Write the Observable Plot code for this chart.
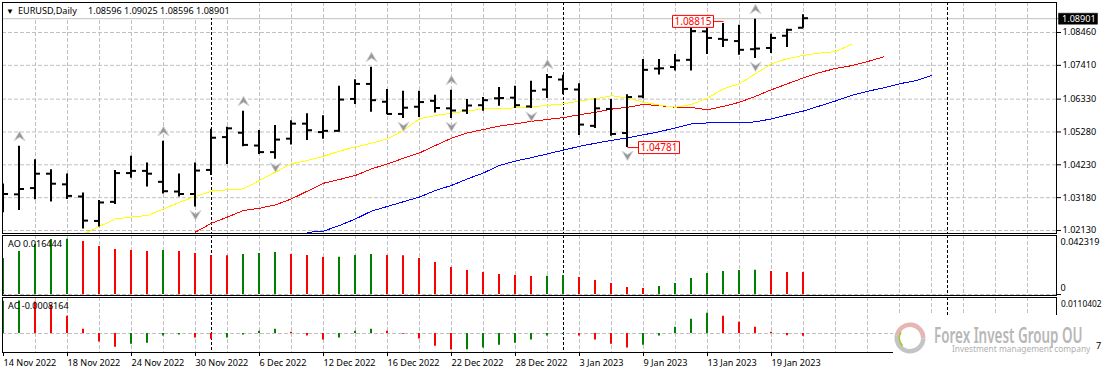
<!DOCTYPE html>
<html>
<head>
<meta charset="utf-8">
<script src="https://cdn.jsdelivr.net/npm/d3@7"></script>
<script src="https://cdn.jsdelivr.net/npm/@observablehq/plot@0.6"></script>
<style>
html,body{margin:0;padding:0;width:1102px;height:373px;overflow:hidden;background:#fff}
#root{position:relative;width:1102px;height:373px}
#root>svg{position:absolute;left:0;display:block}
#head{position:absolute;left:3px;top:3px;width:226px;height:15px;background:#fff;font:9.1px "Noto Sans",sans-serif;color:#000;line-height:15px;white-space:pre}
#head span{position:absolute;top:0}
</style>
</head>
<body>
<div id="root"></div>
<script>
const tickIndex=[0,4,8,12,16,20,24,28,32,36,40,44,48];
const tickLabels=["14 Nov 2022","18 Nov 2022","24 Nov 2022","30 Nov 2022","6 Dec 2022","12 Dec 2022","16 Dec 2022","22 Dec 2022","28 Dec 2022","3 Jan 2023","9 Jan 2023","13 Jan 2023","19 Jan 2023"];
const monthBreaks=[13,35,59];
const priceTicks=[1.0846,1.0741,1.0633,1.0528,1.0423,1.0318,1.0213];
const lastPrice=1.08901;

const opens=[1.0328,1.0327,1.0347,1.0393,1.0359,1.0320,1.0242,1.0303,1.0395,1.0402,1.0367,1.0336,1.0328,1.0405,1.0510,1.0524,1.0483,1.0462,1.0505,1.0553,1.0526,1.0530,1.0632,1.0680,1.0623,1.0584,1.0607,1.0626,1.0602,1.0595,1.0612,1.0634,1.0636,1.0608,1.0662,1.0694,1.0662,1.0546,1.0600,1.0523,1.0640,1.0729,1.0734,1.0757,1.0848,1.0824,1.0817,1.0791,1.0795,1.0834,1.08596];
const highs=[1.0362,1.0482,1.0439,1.0407,1.0394,1.0333,1.0309,1.0405,1.0450,1.0429,1.0498,1.0394,1.0429,1.0537,1.0543,1.0594,1.0533,1.0549,1.0564,1.0586,1.0580,1.0674,1.0695,1.0735,1.0664,1.0658,1.0658,1.0645,1.0661,1.0632,1.0638,1.0670,1.0674,1.0690,1.0712,1.0709,1.0682,1.0634,1.0632,1.0647,1.0760,1.0760,1.0776,1.0868,1.0869,1.0875,1.0869,1.0888,1.0840,1.0856,1.09025];
const lows=[1.0270,1.0277,1.0311,1.0304,1.0312,1.0218,1.0224,1.0296,1.0380,1.0352,1.0330,1.0320,1.0288,1.0389,1.0424,1.0481,1.0456,1.0441,1.0486,1.0501,1.0505,1.0527,1.0616,1.0591,1.0583,1.0571,1.0574,1.0589,1.0571,1.0584,1.0594,1.0610,1.0603,1.0603,1.0635,1.0647,1.0517,1.0539,1.0514,1.0478,1.0634,1.0710,1.0723,1.0723,1.0776,1.0798,1.0773,1.0763,1.0779,1.0798,1.08596];
const closes=[1.0328,1.0344,1.0393,1.0361,1.0322,1.0243,1.0301,1.0395,1.0402,1.0393,1.0337,1.0328,1.0403,1.0508,1.0538,1.0485,1.0462,1.0502,1.0553,1.0532,1.0530,1.0630,1.0680,1.0628,1.0584,1.0604,1.0622,1.0603,1.0595,1.0611,1.0628,1.0635,1.0612,1.0658,1.0702,1.0664,1.0550,1.0602,1.0520,1.0638,1.0725,1.0730,1.0755,1.0849,1.0827,1.0821,1.0789,1.0793,1.0827,1.0853,1.08901];

const yellowStart=5;
const yellowLine=[1.0202,1.0226,1.0250,1.0256,1.0261,1.0282,1.0303,1.0322,1.0339,1.0343,1.0346,1.0373,1.0400,1.0426,1.0437,1.0450,1.0467,1.0480,1.0492,1.0506,1.0533,1.0570,1.0581,1.0588,1.0595,1.0602,1.0603,1.0605,1.0608,1.0613,1.0618,1.0627,1.0634,1.0644,1.0636,1.0623,1.0614,1.0607,1.0616,1.0636,1.0666,1.0682,1.0714,1.0746,1.0762,1.0773,1.0780,1.0785,1.0808];
const redStart=12;
const redLine=[1.0208,1.0236,1.0256,1.0277,1.0284,1.0295,1.0314,1.0339,1.0364,1.0376,1.0389,1.0410,1.0426,1.0444,1.0461,1.0485,1.0508,1.0525,1.0536,1.0547,1.0554,1.0562,1.0568,1.0574,1.0583,1.0591,1.0601,1.0607,1.0616,1.0612,1.0607,1.0606,1.0599,1.0610,1.0623,1.0642,1.0663,1.0682,1.0701,1.0718,1.0731,1.0740,1.0753,1.0768];
const blueStart=19;
const blueLine=[1.0207,1.0211,1.0229,1.0250,1.0275,1.0290,1.0305,1.0320,1.0341,1.0357,1.0378,1.0397,1.0421,1.0435,1.0446,1.0458,1.0470,1.0482,1.0492,1.0501,1.0509,1.0519,1.0529,1.0541,1.0554,1.0557,1.0559,1.0559,1.0560,1.0570,1.0583,1.0595,1.0611,1.0627,1.0645,1.0658,1.0669,1.0682,1.0692,1.0708];

const fractalUp=[1,10,15,23,28,34,47];
const fractalDown=[5,12,17,25,28,33,39,47];
const highMark={index:45,price:1.08815};
const lowMark={index:39,price:1.04781};

const aoValues=[.02689,.03212,.03735,.04109,.04121,.03959,.03586,.03362,.03287,.03212,.03287,.03212,.03063,.02913,.029,.02988,.03063,.03137,.02988,.02913,.02764,.02776,.02913,.02988,.02913,.029,.02689,.0239,.02017,.01793,.01644,.01494,.01419,.01345,.01357,.01419,.0127,.01046,.00822,.00523,.00448,.00598,.00822,.01195,.01569,.01718,.01793,.01805,.01718,.0165,.016444];
const acValues=[.0099,.01,.0097,.0087,.0053,.0013,-.00265,-.0042,-.0033,-.003,-.0008,-.0005,-.0014,-.0018,-.0014,-.0005,.0007,.0013,.0004,-.0008,-.002,-.0014,.0007,.0013,.0007,-.0002,-.0017,-.0039,-.0051,-.005,-.0045,-.0036,-.003,-.002,-.0008,-.0003,-.0008,-.002,-.0033,-.0045,-.0036,-.0008,.0019,.0044,.0062,.0053,.0035,.0019,.0004,-.0007,-.00082];

const FONT='"Noto Sans",sans-serif', FS='9.1px';
const GRID='#c0c0c0', RED='#ff0000', GREEN='#008000';
const gridIndex=d3.range(2,65,2);
const xDomain=[-1/16,1053/16];
const xMax=xDomain[1];
const bars=opens.map((o,i)=>({i,o,h:highs[i],l:lows[i],c:closes[i]}));
const idx=(d,i)=>i;
const base={width:1102,marginLeft:2,marginRight:46,x:{domain:xDomain,axis:null},style:{fontFamily:FONT,fontSize:FS,color:'#000',background:'#fff',overflow:'visible'}};
const gridV=()=>Plot.gridX(gridIndex,{x:d=>d,stroke:GRID,strokeOpacity:1,strokeDasharray:'4,2'});
const seps=()=>Plot.ruleX(monthBreaks,{stroke:'#000',strokeDasharray:'3,2'});
const sym=f=>({draw(c){f(c)}});
const arrowUp=sym(c=>{c.moveTo(0,-5);c.lineTo(5.5,4.5);c.lineTo(0,1);c.lineTo(-5.5,4.5);c.closePath()});
const arrowDown=sym(c=>{c.moveTo(0,5);c.lineTo(5.5,-4.5);c.lineTo(0,-1);c.lineTo(-5.5,-4.5);c.closePath()});
const calloutLeft=sym(c=>{c.rect(-51,-6,41,12);c.moveTo(-10,0);c.lineTo(0,0)});
const calloutRight=sym(c=>{c.moveTo(0,0);c.lineTo(11,0);c.rect(11,-6,41,12)});
const priceBox=sym(c=>{c.rect(2,-5.5,39,11);c.moveTo(0,0);c.lineTo(2,0)});
const clip={clip:true};
const crisp={shapeRendering:'crispEdges'};

const main=Plot.plot({...base,height:235,marginTop:2,marginBottom:2,
  y:{domain:[1.02034,1.09419],axis:null},
  marks:[
    gridV(),
    Plot.gridY(priceTicks,{y:d=>d,stroke:GRID,strokeOpacity:1,strokeDasharray:'4,2'}),
    Plot.ruleY([lastPrice],{stroke:GRID}),
    seps(),
    Plot.lineY(blueLine,{x:(d,i)=>i+blueStart,y:d=>d,stroke:'#0000ff',strokeWidth:1,...crisp,...clip}),
    Plot.lineY(redLine,{x:(d,i)=>i+redStart,y:d=>d,stroke:RED,strokeWidth:1,...crisp,...clip}),
    Plot.lineY(yellowLine,{x:(d,i)=>i+yellowStart,y:d=>d,stroke:'#ffff00',strokeWidth:1,...crisp,...clip}),
    Plot.ruleX(bars,{x:'i',y1:'l',y2:'h',stroke:'#000',strokeWidth:2,dx:-.5,...clip}),
    Plot.ruleY(bars,{x1:d=>d.i-5/16,x2:d=>d.i,y:'o',stroke:'#000',strokeWidth:2,dy:-.5,...clip}),
    Plot.ruleY(bars,{x1:d=>d.i,x2:d=>d.i+5/16,y:'c',stroke:'#000',strokeWidth:2,dy:-.5,...clip}),
    Plot.dot(fractalUp,{x:d=>d,y:d=>highs[d],dy:-10,symbol:arrowUp,fill:'#969696',stroke:'#d2d2de',strokeWidth:.9,...clip}),
    Plot.dot(fractalDown,{x:d=>d,y:d=>lows[d],dy:8,symbol:arrowDown,fill:'#969696',stroke:'#d2d2de',strokeWidth:.9,...clip}),
    Plot.dot([highMark],{x:'index',y:'price',symbol:calloutLeft,fill:'#fff',stroke:RED,strokeWidth:1}),
    Plot.text([highMark],{x:'index',y:'price',text:d=>d.price.toFixed(5),dx:-30.5,fill:RED,fontSize:10}),
    Plot.dot([lowMark],{x:'index',y:'price',symbol:calloutRight,fill:'#fff',stroke:RED,strokeWidth:1}),
    Plot.text([lowMark],{x:'index',y:'price',text:d=>d.price.toFixed(5),dx:31.5,fill:RED,fontSize:10}),
    Plot.frame({stroke:'#000'}),
    Plot.axisY({anchor:'right',ticks:priceTicks,tickSize:4,tickPadding:2,tickFormat:d=>d.toFixed(5)}),
    Plot.dot([lastPrice],{x:()=>xMax,y:d=>d,symbol:priceBox,fill:'#000',stroke:'#000',strokeWidth:.5}),
    Plot.text([lastPrice],{x:()=>xMax,y:d=>d,text:d=>d.toFixed(5),dx:5.5,textAnchor:'start',fill:'#fff'})
  ]});
main.style.top='0px';

const ao=Plot.plot({...base,height:62,marginTop:0,marginBottom:2,
  y:{domain:[-.000747,.04407],axis:null},
  marks:[
    gridV(),
    Plot.ruleY([0],{stroke:GRID,strokeDasharray:'4,2'}),
    seps(),
    Plot.ruleX(aoValues,{x:idx,y1:0,y2:d=>d,strokeWidth:2,dx:-.5,stroke:(d,i)=>i===0||d>aoValues[i-1]?GREEN:RED,...clip}),
    Plot.text(['AO 0.016444'],{text:d=>d,frameAnchor:'top-left',dx:5.5,dy:5}),
    Plot.frame({stroke:'#000'}),
    Plot.axisY({anchor:'right',ticks:[0],tickSize:4,tickPadding:2,tickFormat:()=>''}),
    Plot.text([0.042319],{x:()=>xMax,y:d=>d,text:d=>d.toFixed(6),dx:4,dy:4.5,textAnchor:'start'}),
    Plot.text([0],{x:()=>xMax,y:d=>d,text:d=>String(d),dx:4,dy:-6,textAnchor:'start'})
  ]});
ao.style.top='235px';

const ac=Plot.plot({...base,height:76,marginTop:0,marginBottom:21,
  y:{domain:[-.005852,.011088],axis:null},
  marks:[
    gridV(),
    Plot.ruleY([0],{stroke:GRID,strokeDasharray:'4,2'}),
    seps(),
    Plot.ruleX(acValues,{x:idx,y1:0,y2:d=>d,strokeWidth:2,dx:-.5,stroke:(d,i)=>i===0||d>acValues[i-1]?GREEN:RED,...clip}),
    Plot.text(['AC -0.0008164'],{text:d=>d,frameAnchor:'top-left',dx:5.5,dy:5}),
    Plot.frame({stroke:'#000'}),
    Plot.axisX({anchor:'bottom',ticks:tickIndex,tickSize:4,tickPadding:3,textAnchor:'start',tickFormat:d=>tickLabels[tickIndex.indexOf(d)]}),
    Plot.text([0.0110402],{x:()=>xMax,y:d=>d,text:d=>d.toFixed(7),dx:4.5,dy:6.5,textAnchor:'start',fontSize:8.4})
  ]});
ac.style.top='297px';

const root=document.getElementById('root');
root.append(main,ao,ac);

// header
const head=document.createElement('div');
head.id='head';
head.innerHTML='<span style="left:3px;font-size:8px">▼</span><span style="left:15px">EURUSD,Daily</span><span style="left:85px">1.08596 1.09025 1.08596 1.08901</span>';
root.append(head);

// watermark
const NS='http://www.w3.org/2000/svg';
const wm=document.createElementNS(NS,'svg');
wm.setAttribute('width',209);wm.setAttribute('height',58);
wm.style.cssText='left:893px;top:315px;background:#fff';
const arc=d3.arc();
const ring=(inner,outer,a0,a1,fill)=>`<path transform="translate(17,23)" d="${arc({innerRadius:inner,outerRadius:outer,startAngle:a0,endAngle:a1})}" fill="${fill}"/>`;
wm.innerHTML=
 ring(11,15.5,-1.4,1.6,'#e6b6b4')+
 ring(11,15.5,1.6,4.9,'#c4c4c4')+
 ring(10,11.5,3.9,5.3,'#9ec820')+
 `<text transform="translate(41,28) scale(.64,1)" font-family="'Noto Sans',sans-serif" font-size="21" font-weight="600" fill="#b7b7b7">Forex Invest Group OU</text>`+
 `<text x="59" y="36.5" font-family="'Noto Sans',sans-serif" font-size="8.4" fill="#b0b0b0">Investment management company</text>`+
 `<text x="203" y="34" font-family="'Noto Sans',sans-serif" font-size="9.1" fill="#000">7</text>`;
root.append(wm);
</script>
</body>
</html>
